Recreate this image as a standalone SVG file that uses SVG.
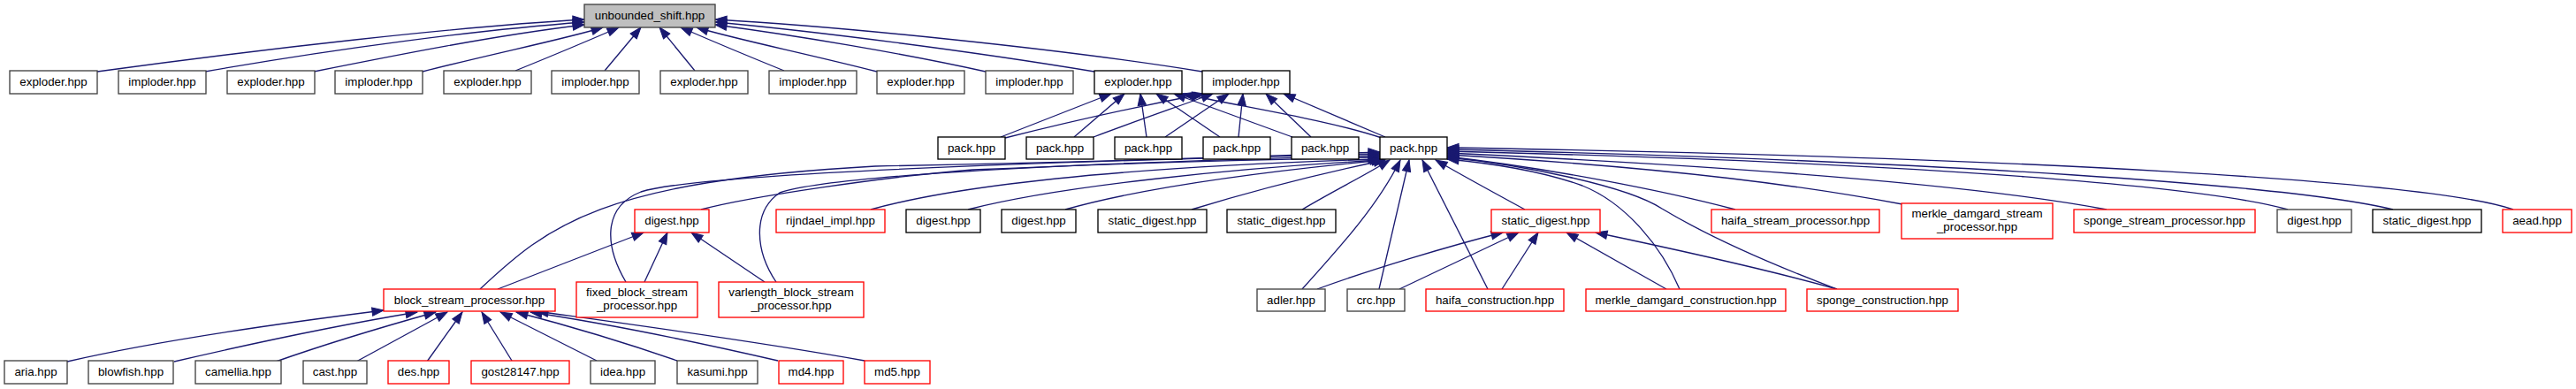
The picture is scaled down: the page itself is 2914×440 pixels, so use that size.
<svg xmlns="http://www.w3.org/2000/svg" width="2914" height="440" viewBox="0 0 2914 440">
<style>
rect{fill:#fff;stroke:#404040;stroke-width:1.33}
.k rect{stroke:#000}
.r rect{stroke:#ff0000}
.root rect{fill:#bfbfbf}
text{font-family:"Liberation Sans",Arial,Helvetica,sans-serif;font-size:13.33px;text-anchor:middle;fill:#000}
.e path{fill:none;stroke:#191970;stroke-width:1.33;marker-end:url(#a)}
</style>
<defs>
<marker id="a" markerUnits="userSpaceOnUse" markerWidth="14" markerHeight="10" refX="13" refY="4.67" orient="auto" overflow="visible">
<path d="M0,0 L13,4.67 L0,9.33 Z" fill="#191970" stroke="#191970" stroke-width="1"/>
</marker>
</defs>
<rect x="0" y="0" width="2914" height="440" style="fill:#fff;stroke:none"/>
<g class="e" id="edges">
<!-- row1 to root -->
<path d="M110,81 C300,55 520,30 661,22"/>
<path d="M232,81 C380,55 540,34 661,25"/>
<path d="M355,81 C450,62 560,40 661,28"/>
<path d="M478,81 C560,60 640,44 682,31"/>
<path d="M583,80 C620,65 670,44 700,31"/>
<path d="M684,80 L725,31"/>
<path d="M786,80 L746,31"/>
<path d="M887,80 C850,65 800,44 770,31"/>
<path d="M992,81 C910,60 830,44 788,31"/>
<path d="M1115,81 C1020,60 900,40 809,28"/>
<path d="M1238,81 C1100,58 920,35 809,25"/>
<path d="M1360,81 C1200,55 950,30 809,22"/>
<!-- pack to exploder/imploder -->
<path d="M1132,155 L1257,106"/>
<path d="M1215,155 L1272,106"/>
<path d="M1297,155 L1290,106"/>
<path d="M1380,155 L1308,106"/>
<path d="M1462,155 L1328,106"/>
<path d="M1563,156 C1500,135 1400,120 1338,106"/>
<path d="M1137,156 C1220,135 1300,118 1362,106"/>
<path d="M1237,155 C1290,135 1340,118 1372,106"/>
<path d="M1318,155 L1390,106"/>
<path d="M1401,155 L1406,106"/>
<path d="M1483,155 L1432,106"/>
<path d="M1567,155 C1520,135 1480,118 1452,106"/>
<!-- into pack main from left -->
<path d="M543,327 C620,255 680,205 990,188 C1300,182 1450,176 1561,172"/>
<path d="M708,319 C685,280 680,235 725,217 C800,193 1300,180 1561,174"/>
<path d="M878,319 C855,285 850,240 882,218 C950,195 1300,182 1561,176"/>
<path d="M793,237 C850,222 1000,200 1100,192 C1300,183 1450,180 1561,178"/>
<path d="M985,237 C1100,205 1300,188 1561,180"/>
<path d="M1095,237 C1200,210 1400,190 1563,181"/>
<path d="M1205,237 C1300,210 1450,192 1565,181"/>
<path d="M1348,237 C1420,215 1500,195 1567,181"/>
<path d="M1473,237 C1510,215 1545,198 1572,181"/>
<!-- into pack main from below -->
<path d="M1473,327 C1520,275 1560,230 1584,181"/>
<path d="M1560,327 L1594,181"/>
<path d="M1683,327 L1609,181"/>
<path d="M1725,237 C1690,218 1650,196 1624,181"/>
<!-- into pack main from right -->
<path d="M1900,327 C1880,280 1840,230 1790,210 C1740,192 1680,184 1637,180"/>
<path d="M2078,327 C1980,290 1920,260 1880,236 C1840,210 1720,186 1637,178"/>
<path d="M1963,237 C1880,215 1750,190 1637,177"/>
<path d="M2152,231 C2050,212 1900,190 1637,175"/>
<path d="M2383,237 C2250,212 2000,190 1637,173"/>
<path d="M2588,237 C2500,212 2200,185 1637,171"/>
<path d="M2707,237 C2600,210 2200,182 1637,169"/>
<path d="M2843,237 C2750,205 2300,178 1637,167"/>
<!-- static_digest red children -->
<path d="M1490,327 C1550,305 1640,278 1700,263"/>
<path d="M1583,327 L1718,263"/>
<path d="M1699,327 L1740,263"/>
<path d="M1885,327 L1772,263"/>
<path d="M2078,327 C2000,305 1900,283 1805,263"/>
<!-- digest red children -->
<path d="M563,327 L728,263"/>
<path d="M729,319 L755,263"/>
<path d="M865,319 L782,263"/>
<!-- block_stream_processor children -->
<path d="M76,409 C180,385 330,364 434,351"/>
<path d="M197,409 C300,385 400,365 472,353"/>
<path d="M312,409 C380,385 450,365 493,353"/>
<path d="M403,409 L506,353"/>
<path d="M483,409 L523,353"/>
<path d="M579,408 L545,353"/>
<path d="M675,408 L566,353"/>
<path d="M766,408 C700,385 630,365 584,353"/>
<path d="M880,408 C780,385 680,365 600,353"/>
<path d="M978,408 C850,385 700,365 607,352"/>
</g>
<g id="n_root" class="root"><rect x="661" y="5" width="148" height="26"/><text x="735" y="22">unbounded_shift.hpp</text></g>
<g id="n_e1"><rect x="11" y="80" width="99" height="26"/><text x="60.5" y="97">exploder.hpp</text></g>
<g id="n_i1"><rect x="134" y="80" width="99" height="26"/><text x="183.5" y="97">imploder.hpp</text></g>
<g id="n_e2"><rect x="257" y="80" width="99" height="26"/><text x="306.5" y="97">exploder.hpp</text></g>
<g id="n_i2"><rect x="379" y="80" width="99" height="26"/><text x="428.5" y="97">imploder.hpp</text></g>
<g id="n_e3"><rect x="502" y="80" width="99" height="26"/><text x="551.5" y="97">exploder.hpp</text></g>
<g id="n_i3"><rect x="624" y="80" width="99" height="26"/><text x="673.5" y="97">imploder.hpp</text></g>
<g id="n_e4"><rect x="747" y="80" width="99" height="26"/><text x="796.5" y="97">exploder.hpp</text></g>
<g id="n_i4"><rect x="870" y="80" width="99" height="26"/><text x="919.5" y="97">imploder.hpp</text></g>
<g id="n_e5"><rect x="992" y="80" width="99" height="26"/><text x="1041.5" y="97">exploder.hpp</text></g>
<g id="n_i5"><rect x="1115" y="80" width="99" height="26"/><text x="1164.5" y="97">imploder.hpp</text></g>
<g id="n_e6" class="k"><rect x="1238" y="80" width="99" height="26"/><text x="1287.5" y="97">exploder.hpp</text></g>
<g id="n_i6" class="k"><rect x="1360" y="80" width="99" height="26"/><text x="1409.5" y="97">imploder.hpp</text></g>
<g id="n_p1" class="k"><rect x="1061" y="155" width="76" height="25"/><text x="1099" y="172">pack.hpp</text></g>
<g id="n_p2" class="k"><rect x="1161" y="155" width="76" height="25"/><text x="1199" y="172">pack.hpp</text></g>
<g id="n_p3" class="k"><rect x="1261" y="155" width="76" height="25"/><text x="1299" y="172">pack.hpp</text></g>
<g id="n_p4" class="k"><rect x="1361" y="155" width="76" height="25"/><text x="1399" y="172">pack.hpp</text></g>
<g id="n_p5" class="k"><rect x="1461" y="155" width="76" height="25"/><text x="1499" y="172">pack.hpp</text></g>
<g id="n_pm" class="k"><rect x="1561" y="155" width="76" height="25"/><text x="1599" y="172">pack.hpp</text></g>
<g id="n_digest_r" class="r"><rect x="718" y="237" width="84" height="26"/><text x="760" y="254">digest.hpp</text></g>
<g id="n_rijndael" class="r"><rect x="878" y="237" width="123" height="26"/><text x="939.5" y="254">rijndael_impl.hpp</text></g>
<g id="n_digest1" class="k"><rect x="1025" y="237" width="84" height="26"/><text x="1067" y="254">digest.hpp</text></g>
<g id="n_digest2" class="k"><rect x="1133" y="237" width="84" height="26"/><text x="1175" y="254">digest.hpp</text></g>
<g id="n_sd1" class="k"><rect x="1242" y="237" width="123" height="26"/><text x="1303.5" y="254">static_digest.hpp</text></g>
<g id="n_sd2" class="k"><rect x="1388" y="237" width="123" height="26"/><text x="1449.5" y="254">static_digest.hpp</text></g>
<g id="n_sd_r" class="r"><rect x="1687" y="237" width="123" height="26"/><text x="1748.5" y="254">static_digest.hpp</text></g>
<g id="n_haifa_sp" class="r"><rect x="1936" y="237" width="190" height="26"/><text x="2031" y="254">haifa_stream_processor.hpp</text></g>
<g id="n_mds" class="r"><rect x="2151" y="230" width="171" height="40"/><text x="2236.5" y="246">merkle_damgard_stream</text><text x="2236.5" y="261">_processor.hpp</text></g>
<g id="n_sponge_sp" class="r"><rect x="2346" y="237" width="205" height="26"/><text x="2448.5" y="254">sponge_stream_processor.hpp</text></g>
<g id="n_digest_b"><rect x="2576" y="237" width="84" height="26"/><text x="2618" y="254">digest.hpp</text></g>
<g id="n_sd_b" class="k"><rect x="2684" y="237" width="123" height="26"/><text x="2745.5" y="254">static_digest.hpp</text></g>
<g id="n_aead" class="r"><rect x="2831" y="237" width="78" height="26"/><text x="2870" y="254">aead.hpp</text></g>
<g id="n_bsp" class="r"><rect x="434" y="327" width="194" height="25"/><text x="531" y="344">block_stream_processor.hpp</text></g>
<g id="n_fixed" class="r"><rect x="652" y="319" width="137" height="40"/><text x="720.5" y="334.5">fixed_block_stream</text><text x="720.5" y="349.5">_processor.hpp</text></g>
<g id="n_varlength" class="r"><rect x="813" y="319" width="164" height="40"/><text x="895" y="334.5">varlength_block_stream</text><text x="895" y="349.5">_processor.hpp</text></g>
<g id="n_adler"><rect x="1422" y="327" width="77" height="25"/><text x="1460.5" y="344">adler.hpp</text></g>
<g id="n_crc"><rect x="1524" y="327" width="65" height="25"/><text x="1556.5" y="344">crc.hpp</text></g>
<g id="n_haifa_c" class="r"><rect x="1613" y="327" width="156" height="25"/><text x="1691" y="344">haifa_construction.hpp</text></g>
<g id="n_mdc" class="r"><rect x="1794" y="327" width="226" height="25"/><text x="1907" y="344">merkle_damgard_construction.hpp</text></g>
<g id="n_sponge_c" class="r"><rect x="2044" y="327" width="171" height="25"/><text x="2129.5" y="344">sponge_construction.hpp</text></g>
<g id="n_aria"><rect x="5" y="408" width="71" height="26"/><text x="40.5" y="425">aria.hpp</text></g>
<g id="n_blowfish"><rect x="100" y="408" width="96" height="26"/><text x="148" y="425">blowfish.hpp</text></g>
<g id="n_camellia"><rect x="221" y="408" width="97" height="26"/><text x="269.5" y="425">camellia.hpp</text></g>
<g id="n_cast"><rect x="343" y="408" width="72" height="26"/><text x="379" y="425">cast.hpp</text></g>
<g id="n_des" class="r"><rect x="439" y="408" width="69" height="26"/><text x="473.5" y="425">des.hpp</text></g>
<g id="n_gost" class="r"><rect x="533" y="408" width="111" height="26"/><text x="588.5" y="425">gost28147.hpp</text></g>
<g id="n_idea"><rect x="668" y="408" width="73" height="26"/><text x="704.5" y="425">idea.hpp</text></g>
<g id="n_kasumi"><rect x="766" y="408" width="91" height="26"/><text x="811.5" y="425">kasumi.hpp</text></g>
<g id="n_md4" class="r"><rect x="881" y="408" width="73" height="26"/><text x="917.5" y="425">md4.hpp</text></g>
<g id="n_md5" class="r"><rect x="978" y="408" width="74" height="26"/><text x="1015" y="425">md5.hpp</text></g>
</svg>
